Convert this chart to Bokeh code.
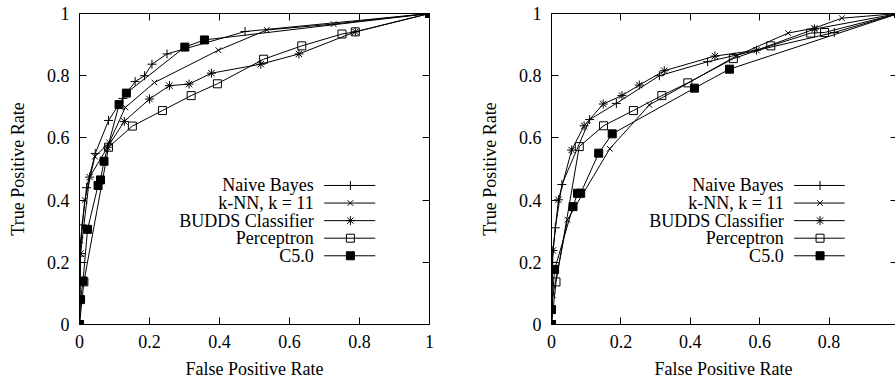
from bokeh.plotting import figure
from bokeh.models import Range1d, LinearAxis, FixedTicker, CustomJSTickFormatter
from bokeh.layouts import row
from bokeh.embed import file_html
from bokeh.resources import INLINE
from bokeh.core.properties import value

# ---------------- data ----------------
series_names = ["Naive Bayes", "k-NN, k = 11", "BUDDS Classifier", "Perceptron", "C5.0"]
tick_vals = [0, 0.2, 0.4, 0.6, 0.8, 1]
tick_labels = ["0", "0.2", "0.4", "0.6", "0.8", "1"]
x_title = "False Positive Rate"
y_title = "True Positive Rate"

# left panel
nb_l_fpr = [0, 0.002, 0.008, 0.02, 0.045, 0.083, 0.124, 0.159, 0.186, 0.207, 0.25, 0.473, 1]
nb_l_tpr = [0, 0.22, 0.32, 0.44, 0.55, 0.656, 0.727, 0.781, 0.80, 0.837, 0.87, 0.942, 1]
knn_l_fpr = [0, 0.003, 0.015, 0.044, 0.085, 0.131, 0.214, 0.397, 0.535, 0.726, 1]
knn_l_tpr = [0, 0.27, 0.40, 0.54, 0.585, 0.698, 0.778, 0.882, 0.947, 0.966, 1]
budds_l_fpr = [0, 0.003, 0.029, 0.08, 0.128, 0.2, 0.257, 0.313, 0.377, 0.518, 0.627, 0.788, 1]
budds_l_tpr = [0, 0.228, 0.474, 0.57, 0.653, 0.725, 0.768, 0.773, 0.808, 0.837, 0.870, 0.941, 1]
perc_l_fpr = [0, 0.0125, 0.083, 0.151, 0.237, 0.319, 0.394, 0.526, 0.635, 0.75, 0.788, 1]
perc_l_tpr = [0, 0.137, 0.57, 0.638, 0.688, 0.736, 0.774, 0.853, 0.896, 0.934, 0.941, 1]
c50_l_fpr = [0, 0.003, 0.01, 0.023, 0.053, 0.06, 0.07, 0.113, 0.134, 0.301, 0.357, 1]
c50_l_tpr = [0, 0.08, 0.14, 0.306, 0.447, 0.465, 0.525, 0.707, 0.744, 0.892, 0.915, 1]

# right panel
nb_r_fpr = [0, 0.002, 0.011, 0.03, 0.11, 0.187, 0.311, 0.45, 0.815, 1]
nb_r_tpr = [0, 0.2, 0.311, 0.45, 0.659, 0.711, 0.80, 0.845, 0.939, 1]
knn_r_fpr = [0, 0.004, 0.046, 0.168, 0.282, 0.535, 0.682, 0.758, 0.837, 1]
knn_r_tpr = [0, 0.094, 0.337, 0.565, 0.706, 0.865, 0.937, 0.953, 0.985, 1]
budds_r_fpr = [0, 0.004, 0.02, 0.058, 0.094, 0.149, 0.203, 0.253, 0.325, 0.471, 0.591, 0.758, 1]
budds_r_tpr = [0, 0.238, 0.401, 0.561, 0.639, 0.709, 0.736, 0.770, 0.816, 0.863, 0.882, 0.950, 1]
perc_r_fpr = [0, 0.013, 0.08, 0.15, 0.236, 0.318, 0.393, 0.524, 0.632, 0.747, 0.787, 1]
perc_r_tpr = [0, 0.137, 0.572, 0.639, 0.688, 0.736, 0.777, 0.855, 0.896, 0.937, 0.939, 1]
c50_r_fpr = [0, 0, 0.009, 0.062, 0.075, 0.084, 0.136, 0.175, 0.412, 0.513, 1]
c50_r_tpr = [0, 0.048, 0.177, 0.379, 0.422, 0.422, 0.551, 0.613, 0.760, 0.821, 1]

left_data = [(nb_l_fpr, nb_l_tpr), (knn_l_fpr, knn_l_tpr), (budds_l_fpr, budds_l_tpr),
             (perc_l_fpr, perc_l_tpr), (c50_l_fpr, c50_l_tpr)]
right_data = [(nb_r_fpr, nb_r_tpr), (knn_r_fpr, knn_r_tpr), (budds_r_fpr, budds_r_tpr),
              (perc_r_fpr, perc_r_tpr), (c50_r_fpr, c50_r_tpr)]

# ---------------- style ----------------
FONT = "Liberation Serif, Times New Roman, Times, serif"
FS = "18px"
MARKERS = ["cross", "x", "asterisk", "square", "square"]
SIZES = [9, 8, 9, 8, 8]
FILLS = [None, None, None, None, "black"]
LEG_TEXT_X = 0.669
LEG_LINE_X0, LEG_LINE_X1, LEG_MARK_X = 0.699, 0.845, 0.774
LEG_Y0, LEG_DY = 0.447, 0.0565

fmt = CustomJSTickFormatter(args=dict(vals=tick_vals, labs=tick_labels), code="""
const i = vals.findIndex(v => Math.abs(v - tick) < 1e-9);
return i >= 0 ? labs[i] : '';
""")


def style_axis(ax, with_labels=True, tick_in=7):
    ax.ticker = FixedTicker(ticks=tick_vals)
    ax.axis_line_color = "black"
    ax.major_tick_line_color = "black"
    ax.minor_tick_line_color = None
    ax.major_tick_in = tick_in
    ax.major_tick_out = 0
    if with_labels:
        ax.formatter = fmt
        ax.major_label_text_font = FONT
        ax.major_label_text_font_size = FS
        ax.major_label_text_color = "black"
        ax.major_label_standoff = 10
        ax.axis_label_text_font = FONT
        ax.axis_label_text_font_size = FS
        ax.axis_label_text_font_style = "normal"
        ax.axis_label_text_color = "black"
    else:
        ax.major_label_text_font_size = "1px"
        ax.major_label_text_color = None
        ax.major_label_standoff = 0


def make_panel(data, width, bl, br, x_end, right_tick_in):
    p = figure(width=width, height=381, x_range=Range1d(0, x_end), y_range=Range1d(0, 1),
               output_backend="svg", toolbar_location=None,
               min_border_left=bl, min_border_right=br, min_border_top=13, min_border_bottom=57)
    p.grid.visible = False
    p.outline_line_color = None
    p.background_fill_color = "white"
    p.border_fill_color = "white"
    p.xaxis.axis_label = x_title
    p.yaxis.axis_label = y_title
    for ax in p.xaxis:
        style_axis(ax)
        ax.axis_label_standoff = 8
    for ax in p.yaxis:
        style_axis(ax)
        ax.axis_label_standoff = 16
    top = LinearAxis()
    style_axis(top, with_labels=False)
    p.add_layout(top, "above")
    rgt = LinearAxis()
    style_axis(rgt, with_labels=False, tick_in=right_tick_in)
    p.add_layout(rgt, "right")

    for (xs, ys), m, s, f in zip(data, MARKERS, SIZES, FILLS):
        p.line(xs, ys, line_color="black", line_width=1)
        p.scatter(xs, ys, marker=m, size=s, line_color="black", fill_color=f, line_width=1)

    # legend (text left of the sample, as in the original)
    for i, (name, m, s, f) in enumerate(zip(series_names, MARKERS, SIZES, FILLS)):
        yy = LEG_Y0 - i * LEG_DY
        p.text(x=[LEG_TEXT_X], y=[yy], text=[name], text_align="right", text_baseline="middle",
               text_font=value(FONT), text_font_size=value(FS), text_color="black")
        p.segment(x0=[LEG_LINE_X0], y0=[yy], x1=[LEG_LINE_X1], y1=[yy], line_color="black", line_width=1)
        p.scatter(x=[LEG_MARK_X], y=[yy], marker=m, size=s, line_color="black", fill_color=f, line_width=1)
    return p


p1 = make_panel(left_data, 476, 79, 47, 1.0, 7)
p2 = make_panel(right_data, 419, 72, 0, 347 / 350, 5)
layout = row(p1, p2)

open("out.html", "w").write(file_html(layout, INLINE))
